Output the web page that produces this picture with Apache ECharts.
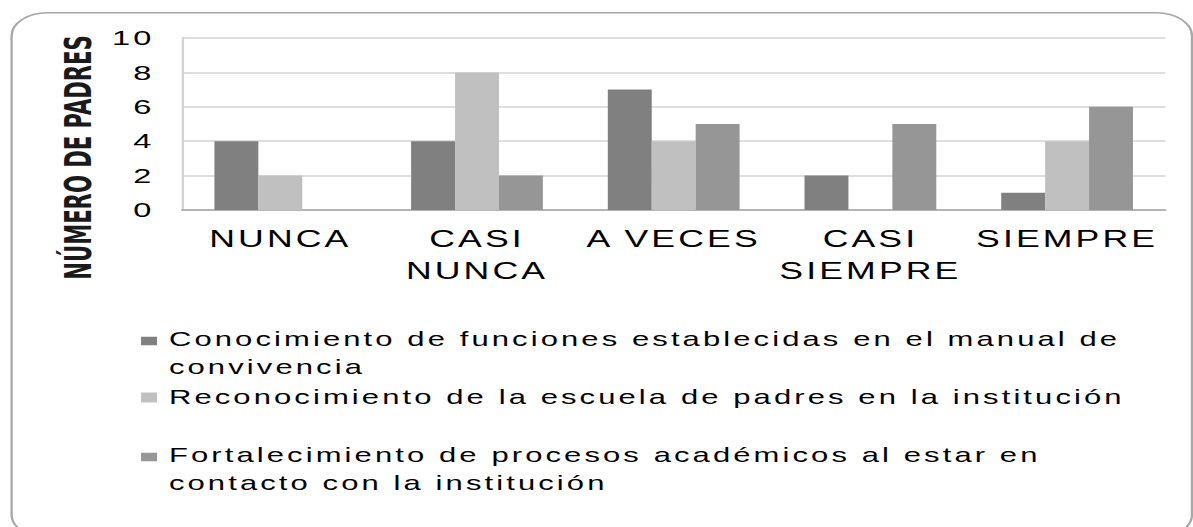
<!DOCTYPE html>
<html><head><meta charset="utf-8">
<script src="https://cdn.jsdelivr.net/npm/echarts@6/dist/echarts.min.js"></script>
<style>
html,body{margin:0;padding:0;background:#fff;overflow:hidden;}
#c{width:769.68px;height:527px;transform:scaleX(1.55);transform-origin:0 0;}
#c text{letter-spacing:2px;}
</style></head><body><div id="c"></div>
<script>
// ---- data ----
const categories = ['NUNCA', 'CASI\nNUNCA', 'A VECES', 'CASI\nSIEMPRE', 'SIEMPRE'];
const seriesNames = [
  'Conocimiento de funciones establecidas en el manual de convivencia',
  'Reconocimiento de la escuela de padres en la institución',
  'Fortalecimiento de procesos académicos al estar en contacto con la institución'
];
const legendLabels = [
  'Conocimiento de funciones establecidas en el manual de\nconvivencia',
  'Reconocimiento de la escuela de padres en la institución',
  'Fortalecimiento de procesos académicos al estar en\ncontacto con la institución'
];
const conocimiento = [4, 4, 7, 2, 1];
const reconocimiento = [2, 8, 4, 0, 4];
const fortalecimiento = [0, 2, 5, 5, 6];
const yMin = 0, yMax = 10, yStep = 2;
const yAxisTitle = 'NÚMERO DE PADRES';

// ---- styling ----
const colors = ['#808080', '#c0c0c0', '#969696'];
const values = [conocimiento, reconocimiento, fortalecimiento];
const FONT = "'Liberation Sans', Arial, sans-serif";

const chart = echarts.init(document.getElementById('c'), null, {renderer: 'svg'});
const legendTops = [325, 383.5, 441];
const twoLineIcon = 'path://M0,0L12,0L12,10L0,10Z M0,38L12,38';

chart.setOption({
  animation: false,
  backgroundColor: '#fff',
  grid: {left: 117.4, right: 18.1, top: 38, bottom: 317, containLabel: false},
  xAxis: {
    type: 'category',
    data: categories,
    axisLine: {show: true, lineStyle: {color: '#a6a6a6', width: 1.5}},
    axisTick: {show: false},
    axisLabel: {interval: 0, margin: 13, fontSize: 23, lineHeight: 32, color: '#000', fontFamily: FONT}
  },
  yAxis: {
    type: 'value',
    min: yMin, max: yMax, interval: yStep,
    axisLine: {show: true, lineStyle: {color: '#d3d3d3', width: 1.5}},
    axisTick: {show: false},
    splitLine: {show: true, lineStyle: {color: '#d3d3d3', width: 1.5}},
    axisLabel: {margin: 17.8, fontSize: 21, color: '#000', fontFamily: FONT}
  },
  legend: [0, 1, 2].map(i => ({
    data: [{name: seriesNames[i], icon: i === 1 ? 'rect' : twoLineIcon}],
    orient: 'vertical',
    left: 91,
    top: legendTops[i],
    padding: 0,
    itemWidth: 10.3,
    itemHeight: i === 1 ? 10 : 38,
    selectedMode: false,
    formatter: () => legendLabels[i],
    textStyle: {fontSize: 20, lineHeight: 28, color: '#000', fontFamily: FONT, padding: [0, 0, 0, 2.7]}
  })),
  graphic: [
    {
      type: 'rect', silent: true, z: -10,
      shape: {x: 7.5, y: 12.7, width: 761.5, height: 525, r: 23},
      style: {fill: 'none', stroke: '#a8a8a8', lineWidth: 1.5}
    },
    {
      type: 'text', silent: true,
      x: 50.8, y: 157.5, rotation: Math.PI / 2,
      style: {
        text: yAxisTitle, x: 0, y: 0,
        font: "bold 23.5px 'Liberation Sans Narrow', 'Arial Narrow', 'DejaVu Sans Condensed', 'Liberation Sans', sans-serif",
        fill: '#1a1a1a', align: 'center', verticalAlign: 'middle',
        textAlign: 'center', textVerticalAlign: 'middle'
      }
    }
  ],
  series: values.map((v, i) => ({
    name: seriesNames[i],
    type: 'bar',
    data: v,
    barGap: '0%',
    barCategoryGap: '33%',
    itemStyle: {color: colors[i]}
  }))
});

document.querySelectorAll('#c text').forEach(t => {
  if (t.textContent.indexOf('PADRES') >= 0) t.style.letterSpacing = '0px';
});
</script>
</body></html>
